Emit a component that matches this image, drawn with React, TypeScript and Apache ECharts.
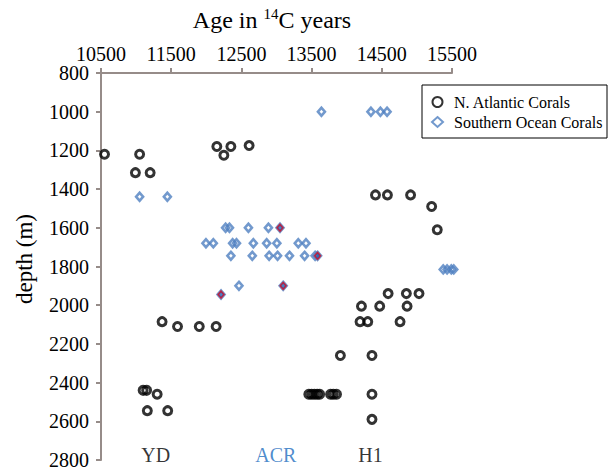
import React, { useEffect, useRef } from "react";
import * as echarts from "echarts";

// Axis ranges / ticks
const X_MIN = 10500;
const X_MAX = 15500;
const X_STEP = 1000;
const Y_MIN = 800;
const Y_MAX = 2800;
const Y_STEP = 200;

const seriesNames = ["N. Atlantic Corals", "Southern Ocean Corals"];

// [age in 14C years, depth (m)]
const atlanticCorals: number[][] = [
  [10550, 1220], [11050, 1220], [10990, 1315], [11200, 1315],
  [12150, 1180], [12250, 1225], [12350, 1180], [12610, 1175],
  [14410, 1430], [14580, 1430], [14910, 1430], [15210, 1490], [15290, 1610],
  [14590, 1940], [14850, 1940], [15030, 1940],
  [14210, 2005], [14470, 2005], [14860, 2005],
  [14190, 2085], [14300, 2085], [14760, 2085],
  [11370, 2085], [11590, 2110], [11900, 2110], [12140, 2110],
  [11100, 2440], [11150, 2440], [11300, 2460], [11160, 2545], [11450, 2545],
  [13910, 2260], [14360, 2260], [14360, 2460], [14360, 2590],
  [13460, 2460], [13500, 2460], [13540, 2460], [13580, 2460], [13615, 2460],
  [13770, 2460], [13810, 2460], [13855, 2460],
];

const southernCorals: number[][] = [
  [13640, 1000], [14345, 1000], [14480, 1000], [14575, 1000],
  [11050, 1440], [11445, 1440],
  [12275, 1600], [12330, 1600], [12600, 1600], [12885, 1600], [13050, 1600],
  [11995, 1680], [12100, 1680], [12375, 1680], [12430, 1680], [12670, 1680],
  [12860, 1680], [13005, 1680], [13310, 1680], [13420, 1680],
  [12350, 1745], [12655, 1745], [12895, 1745], [13015, 1745], [13185, 1745],
  [13400, 1745], [13550, 1745], [13585, 1745],
  [12465, 1900], [13095, 1900], [12210, 1945],
  [15375, 1815], [15430, 1815], [15490, 1815], [15525, 1815],
];

// Highlighted (red-outlined) Southern Ocean samples
const highlightedCorals: number[][] = [
  [13050, 1600], [13585, 1745], [13095, 1900], [12210, 1945],
];

// Period annotations
const periodLabels = ["YD", "ACR", "H1"];
const periodAges = [11280, 12990, 14340];
const periodColors = ["#000000", "#1f6fbf", "#000000"];
const periodDepth = 2775;

const FONT = "Liberation Serif";
const AXIS_COLOR = "#968c89";

export default function App() {
  const ref = useRef<HTMLDivElement>(null);
  useEffect(() => {
    if (!ref.current) return;
    const chart = echarts.init(ref.current, null, { renderer: "svg" });
    const shift = (pts: number[][]) => pts.map(([a, d]) => [a - X_MIN, d]);
    const tickRich = { t: { fontFamily: FONT, fontSize: 20, color: "#000" } };
    chart.setOption({
      animation: false,
      backgroundColor: "#ffffff",
      textStyle: { fontFamily: FONT },
      grid: { left: 101, right: 162, top: 73, bottom: 8, containLabel: false },
      xAxis: {
        type: "value",
        position: "top",
        min: 0,
        max: X_MAX - X_MIN,
        interval: X_STEP,
        axisLine: { show: true, lineStyle: { color: AXIS_COLOR, width: 2 } },
        axisTick: { show: true, length: 5, lineStyle: { color: AXIS_COLOR, width: 2 } },
        axisLabel: {
          formatter: (v: number) => `{t|${v + X_MIN}}`,
          rich: tickRich,
          fontFamily: FONT,
          fontSize: 20,
          color: "#000",
          margin: 9,
        },
        splitLine: { show: false },
      },
      yAxis: {
        type: "value",
        inverse: true,
        min: Y_MIN,
        max: Y_MAX,
        interval: Y_STEP,
        axisLine: { show: true, lineStyle: { color: AXIS_COLOR, width: 2 } },
        axisTick: { show: true, length: 5, lineStyle: { color: AXIS_COLOR, width: 2 } },
        axisLabel: {
          formatter: (v: number) => `{t|${v}}`,
          rich: tickRich,
          fontFamily: FONT,
          fontSize: 20,
          color: "#000",
          margin: 12,
        },
        splitLine: { show: false },
      },
      legend: {
        data: seriesNames,
        orient: "vertical",
        left: 431,
        top: 94,
        padding: 0,
        itemGap: 4,
        itemWidth: 11,
        itemHeight: 10,
        selectedMode: false,
        textStyle: { fontFamily: FONT, fontSize: 16, color: "#000", padding: [0, 0, 0, 6] },
      },
      series: [
        {
          name: seriesNames[0],
          type: "scatter",
          clip: false,
          symbol: "circle",
          symbolSize: 8,
          itemStyle: { color: "rgba(255,255,255,0)", borderColor: "#000", borderWidth: 3 },
          data: shift(atlanticCorals),
          z: 3,
        },
        {
          name: seriesNames[1],
          type: "scatter",
          clip: false,
          symbol: "diamond",
          symbolSize: [7, 8],
          itemStyle: { color: "rgba(255,255,255,0)", borderColor: "#4f7fc0", borderWidth: 2.6 },
          data: shift(southernCorals),
          z: 2,
        },
        {
          name: "highlighted",
          type: "scatter",
          clip: false,
          symbol: "diamond",
          symbolSize: [6, 7],
          itemStyle: { color: "#1f5fb0", borderColor: "#d0102a", borderWidth: 1.6 },
          data: shift(highlightedCorals),
          z: 4,
        },
        {
          name: "periods",
          type: "scatter",
          clip: false,
          silent: true,
          symbolSize: 1,
          itemStyle: { color: "rgba(0,0,0,0)" },
          data: periodAges.map((a, i) => ({
            value: [a - X_MIN, periodDepth],
            name: periodLabels[i],
            label: { color: periodColors[i] },
          })),
          label: {
            show: true,
            position: "inside",
            formatter: "{b}",
            fontFamily: FONT,
            fontSize: 20,
          },
        },
      ],
      graphic: [
        {
          type: "rect",
          shape: { x: 422, y: 85, width: 185, height: 53 },
          style: { fill: "rgba(0,0,0,0)", stroke: "#000", lineWidth: 1 },
          silent: true,
        },
        {
          type: "text",
          x: 272,
          y: 20,
          style: {
            text: "{a|Age in }{s|14}{a|C years}",
            align: "center",
            verticalAlign: "middle",
            fill: "#000",
            rich: {
              a: { fontFamily: FONT, fontSize: 24, lineHeight: 28, fill: "#000" },
              s: { fontFamily: FONT, fontSize: 15, lineHeight: 15, verticalAlign: "top", fill: "#000" },
            },
          },
        },
        {
          type: "text",
          x: 24,
          y: 259,
          rotation: Math.PI / 2,
          style: {
            text: "{a|depth (m)}",
            align: "center",
            verticalAlign: "middle",
            fill: "#000",
            rich: {
              a: { fontFamily: FONT, fontSize: 23, lineHeight: 26, fill: "#000" },
            },
          },
        },
      ],
    });
    return () => chart.dispose();
  }, []);
  return (
    <div
      ref={ref}
      style={{ position: "absolute", left: 0, top: 0, width: 614, height: 470 }}
    />
  );
}
